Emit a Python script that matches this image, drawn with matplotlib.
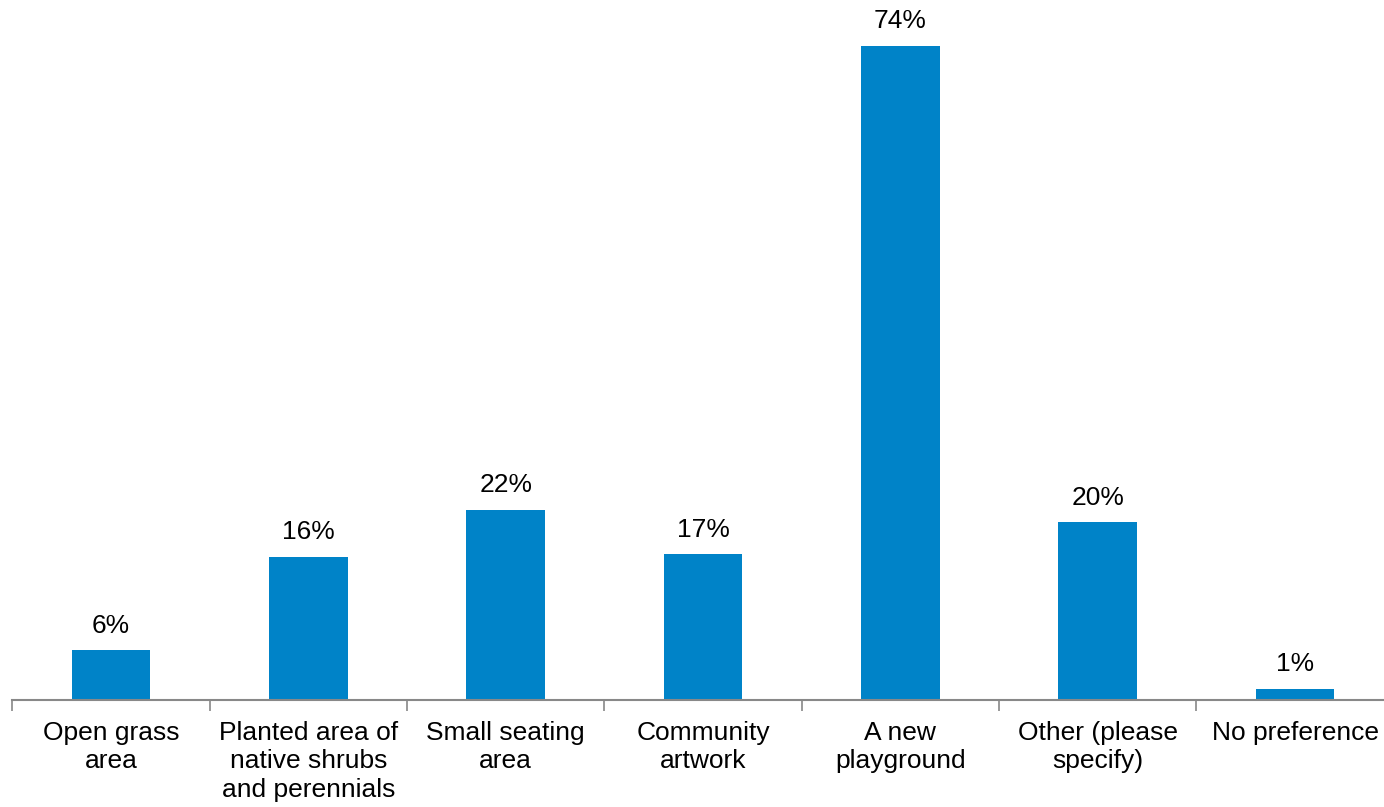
import matplotlib
matplotlib.use("Agg")
import matplotlib.pyplot as plt
import numpy as np

categories = ["Open grass\narea", "Planted area of\nnative shrubs\nand perennials",
              "Small seating\narea", "Community\nartwork", "A new\nplayground",
              "Other (please\nspecify)", "No preference"]
values = [5.6, 16.2, 21.5, 16.5, 74.0, 20.1, 1.3]
value_labels = ["6%", "16%", "22%", "17%", "74%", "20%", "1%"]

plt.rcParams['font.family'] = ['Liberation Sans', 'DejaVu Sans']

W, H = 1384, 807
fig = plt.figure(figsize=(W/100, H/100), dpi=100)
left = 12.3 / W
bottom = (H - 700) / H
ax = fig.add_axes([left, bottom, 1 - left, 700 / H])

x = np.arange(len(categories))
ax.bar(x, values, width=0.4, color="#0083C8", zorder=2)
for xi, v, lab in zip(x, values, value_labels):
    ax.annotate(lab, (xi, v), xytext=(0, 9), textcoords="offset points",
                ha="center", va="bottom", fontsize=19, color="#000000")

ax.set_xticks(np.arange(-0.5, 7.0, 1.0))
ax.set_xticklabels([])
ax.set_xticks(x, minor=True)
ax.set_xticklabels(categories, minor=True, fontsize=19, linespacing=1.23)
ax.tick_params(axis="x", which="major", length=8, width=1.2, color="#888888", direction="out")
ax.tick_params(axis="x", which="minor", length=0, pad=15)
ax.set_yticks([])

ax.set_ylim(0, 700 / 8.84)
ax.set_xlim(-0.5, 6.5 - (1393.7 - W) / 197.3)

for s in ["top", "right", "left"]:
    ax.spines[s].set_visible(False)
ax.spines["bottom"].set_color("#888888")
ax.spines["bottom"].set_linewidth(1.5)

fig.savefig("out.png", dpi=100)
